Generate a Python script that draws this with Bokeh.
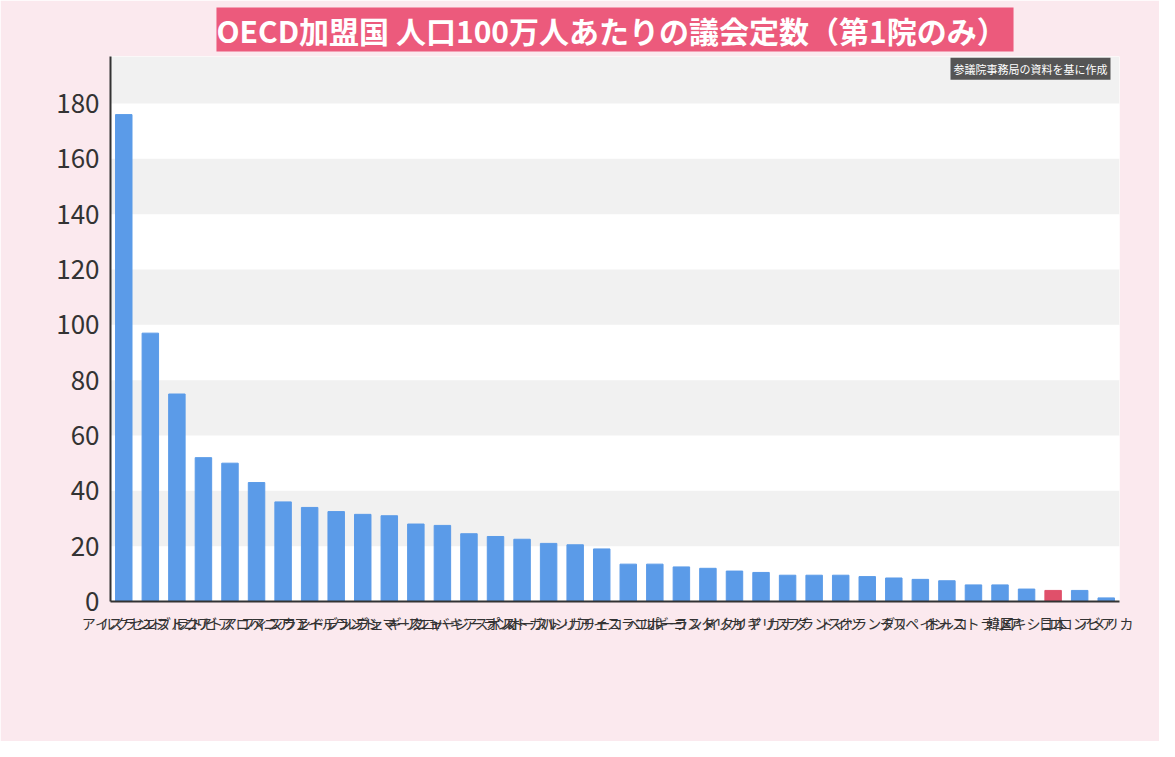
from bokeh.plotting import figure
from bokeh.models import Label, FixedTicker, Range1d
from bokeh.embed import file_html
from bokeh.resources import INLINE

countries = ["アイスランド","ルクセンブルク","エストニア","ラトビア","リトアニア","スロベニア","フィンランド",
 "スウェーデン","アイルランド","ノルウェー","デンマーク","ギリシャ","スロバキア","ニュージーランド","スイス",
 "ポルトガル","オーストリア","ハンガリー","チェコ","イスラエル","ベルギー","ポーランド","コスタリカ","イタリア",
 "イギリス","カナダ","フランス","ドイツ","オランダ","チリ","スペイン","トルコ","オーストラリア","韓国",
 "メキシコ","日本","コロンビア","アメリカ"]
values = [176,97,75,52,50,43,36,34,32.5,31.5,31,28,27.5,24.5,23.5,22.5,21,20.5,19,13.5,13.5,12.5,12,11,
 10.5,9.5,9.5,9.5,9,8.5,8,7.5,6,6,4.5,4,4,1.3]
y_ticks = [0,20,40,60,80,100,120,140,160,180]
colors = ["#e0506a" if c == "日本" else "#5b9be8" for c in countries]

FONT = "Noto Sans CJK JP"
p = figure(width=1159, height=741, x_range=countries, y_range=Range1d(0, 197),
           output_backend="svg", toolbar_location=None,
           title="OECD加盟国  人口100万人あたりの議会定数（第1院のみ）")
p.title.text_font = FONT
p.title.text_font_size = "30px"
p.title.text_font_style = "bold"
p.title.text_color = "white"
p.title.background_fill_color = "#ec5a7c"
p.title.align = "center"
p.title.offset = 0
p.border_fill_color = "#fbe9ee"
p.background_fill_color = "white"
p.outline_line_color = None
p.min_border_left = 110
p.min_border_right = 40
p.min_border_bottom = 140
p.min_border_top = 10

p.vbar(x=countries, top=values, width=0.62, color=colors)

p.yaxis.ticker = FixedTicker(ticks=y_ticks)
p.yaxis.major_label_text_font_size = "26px"
p.yaxis.major_label_text_color = "#333333"
p.yaxis.major_label_text_font = FONT
p.yaxis.axis_line_color = "#333333"
p.yaxis.axis_line_width = 2
p.yaxis.major_tick_line_color = None
p.yaxis.minor_tick_line_color = None
p.xaxis.axis_line_color = "#333333"
p.xaxis.axis_line_width = 2
p.xaxis.major_tick_line_color = None
p.xaxis.major_label_overrides = {c: "\n".join(c) for c in countries}
p.xaxis.major_label_text_font = FONT
p.xaxis.major_label_text_font_size = "14px"
p.xaxis.major_label_text_color = "#333333"
p.xaxis.major_label_text_line_height = 1.0
p.xaxis.major_label_text_color = "#333333"
p.xgrid.grid_line_color = None
p.ygrid.grid_line_color = None
p.ygrid.band_fill_color = "#eeeeee"
p.ygrid.band_fill_alpha = 0.8

p.add_layout(Label(x=-75, y=0, x_units="screen", y_units="screen", text="(人)"))
p.add_layout(Label(x=5, y=183, text="（人）", x_units="screen", text_font=FONT,
                   text_font_size="18px", text_color="#333333", x_offset=-95))
p.add_layout(Label(x=1000, y=190, x_units="screen", text="参議院事務局の資料を基に作成",
                   text_font=FONT, text_font_size="11px", text_color="white",
                   background_fill_color="#555555", text_align="right", y_offset=-4,
                   padding=3))
p.renderers = p.renderers
p.center = [r for r in p.center if not (isinstance(r, Label) and r.text == "(人)")]

open("out.html", "w").write(file_html(p, INLINE))
